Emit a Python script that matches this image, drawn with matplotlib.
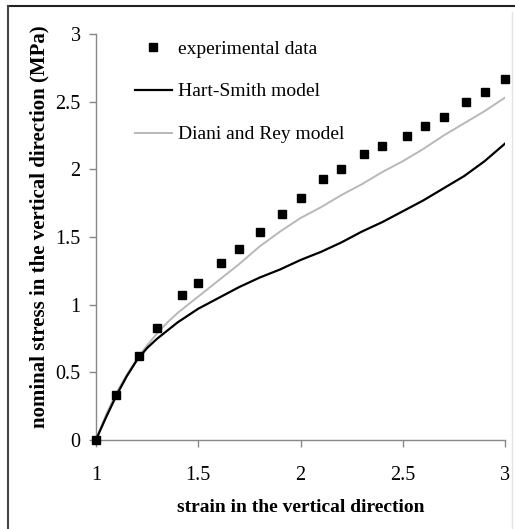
import matplotlib
matplotlib.use("Agg")
import matplotlib.pyplot as plt
from matplotlib.lines import Line2D

# experimental points (strain, nominal stress MPa)
exp_strain = [1.00, 1.10, 1.21, 1.30, 1.42, 1.50, 1.61, 1.70, 1.80, 1.91, 2.00,
              2.11, 2.20, 2.31, 2.40, 2.52, 2.61, 2.70, 2.81, 2.90, 3.00]
exp_stress = [0.00, 0.33, 0.62, 0.83, 1.07, 1.16, 1.31, 1.41, 1.54, 1.67, 1.79,
              1.93, 2.00, 2.11, 2.17, 2.25, 2.32, 2.39, 2.50, 2.57, 2.67]

# model curves
model_strain = [1.00, 1.02, 1.05, 1.10, 1.15, 1.20, 1.25, 1.30, 1.35, 1.40, 1.50,
                1.60, 1.70, 1.80, 1.90, 2.00, 2.10, 2.20, 2.30, 2.40, 2.50, 2.60,
                2.70, 2.80, 2.90, 3.00]
hart_smith = [0.00, 0.07, 0.17, 0.33, 0.47, 0.59, 0.68, 0.75, 0.81, 0.87, 0.97,
              1.05, 1.13, 1.20, 1.26, 1.33, 1.39, 1.46, 1.54, 1.61, 1.69, 1.77,
              1.86, 1.95, 2.06, 2.19]
diani_rey = [0.00, 0.08, 0.19, 0.35, 0.48, 0.60, 0.70, 0.79, 0.87, 0.94, 1.06,
             1.18, 1.30, 1.43, 1.54, 1.64, 1.72, 1.81, 1.89, 1.98, 2.06, 2.15,
             2.25, 2.34, 2.43, 2.53]

x_ticks = [1, 1.5, 2, 2.5, 3]
x_tick_labels = ["1", "1.5", "2", "2.5", "3"]
y_ticks = [0, 0.5, 1, 1.5, 2, 2.5, 3]
y_tick_labels = ["0", "0.5", "1", "1.5", "2", "2.5", "3"]

plt.rcParams["font.family"] = ["Liberation Serif", "DejaVu Serif"]

W, H = 515, 529
fig = plt.figure(figsize=(W / 100, H / 100), dpi=100)
ax = fig.add_axes([96 / W, (H - 440) / H, 409 / W, 406 / H])

# frame around the figure (top and left dark, right faint)
fig.add_artist(Line2D([8 / W, 1], [(H - 6) / H] * 2, transform=fig.transFigure,
                      color="#222222", lw=1.5))
fig.add_artist(Line2D([8 / W] * 2, [0, (H - 6) / H], transform=fig.transFigure,
                      color="#444444", lw=1.5))
fig.add_artist(Line2D([512 / W] * 2, [0, (H - 12) / H], transform=fig.transFigure,
                      color="#e4e4e4", lw=1))

ax.plot(model_strain, diani_rey, color="#b8b8b8", lw=1.4, label="Diani and Rey model", zorder=2)
ax.plot(model_strain, hart_smith, color="black", lw=1.6, label="Hart-Smith model", zorder=3)
ax.plot(exp_strain, exp_stress, "s", color="black", ms=6.3, label="experimental data",
        clip_on=False, zorder=4)

ax.set_xlim(1, 3)
ax.set_ylim(0, 3)
ax.set_xticks(x_ticks)
ax.set_xticklabels(x_tick_labels)
ax.set_yticks(y_ticks)
ax.set_yticklabels(y_tick_labels)

for side in ["top", "right"]:
    ax.spines[side].set_visible(False)
for side in ["left", "bottom"]:
    ax.spines[side].set_color("#888888")
    ax.spines[side].set_linewidth(1.0)

ax.tick_params(axis="x", direction="out", length=5, width=1, color="#888888",
               pad=14, labelsize=14.5)
ax.tick_params(axis="y", direction="out", length=5, width=1, color="#888888",
               pad=6, labelsize=14.5)

ax.set_xlabel("strain in the vertical direction", fontsize=14, fontweight="bold")
ax.set_ylabel("nominal stress in the vertical direction (MPa)", fontsize=15,
              fontweight="bold")
ax.xaxis.set_label_coords(0.5, -0.145)
ax.yaxis.set_label_coords(-0.113, 0.525)

handles, labels = ax.get_legend_handles_labels()
order = [2, 1, 0]
ax.legend([handles[i] for i in order], [labels[i] for i in order],
          loc="upper left", bbox_to_anchor=(135 / W, (H - 40) / H),
          bbox_transform=fig.transFigure, frameon=False, fontsize=14,
          borderpad=0, borderaxespad=0, labelspacing=1.3, handlelength=1.9,
          handletextpad=0.3, markerscale=0.9)

fig.savefig("out.png", dpi=100)
